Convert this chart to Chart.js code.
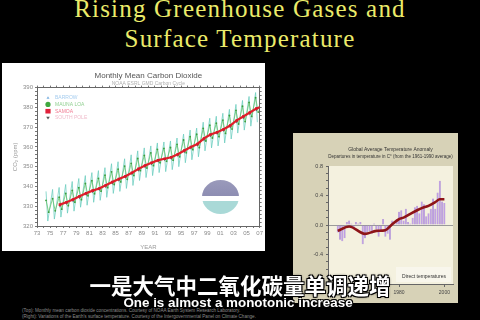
<!DOCTYPE html>
<html>
<head>
<meta charset="utf-8">
<script src="https://cdn.jsdelivr.net/npm/chart.js@4.4.1/dist/chart.umd.min.js"></script>
<style>
  html, body { margin:0; padding:0; width:480px; height:320px; background:#000; overflow:hidden; }
  .abs { position:absolute; }
  #title { left:0; top:-6px; width:480px; text-align:center; color:#ebeb6a;
           font-family:"Liberation Serif", serif; font-size:25px; line-height:30px; letter-spacing:1.2px; }
  #co2Panel { left:2px; top:63px; width:263px; height:188px; background:#fff; }
  #tempPanel { left:293px; top:133px; width:165px; height:170px; background:#d7d2b7; }
  canvas { position:absolute; left:0; top:0; }
  #logo { left:200px; top:117px; width:37px; height:34px; border-radius:50%;
          background:linear-gradient(to bottom, #9a9abb 0, #8d8db2 48%, #fff 48%, #fff 62%, #a9d9d7 62%); }
  #zh { left:0; top:273px; width:480px; text-align:center; color:#fff; font-family:"Noto Sans CJK SC";
        font-weight:bold; font-size:21.5px; line-height:24px;
        text-shadow:1px 1px 0 #000,-1px -1px 0 #000,1px -1px 0 #000,-1px 1px 0 #000,0 0 3px #000; }
  #en { left:-2px; top:295px; width:480px; text-align:center; color:#fff; font-family:"Liberation Sans";
        font-weight:bold; font-size:13.4px; line-height:16px;
        text-shadow:1px 1px 0 #000,-1px -1px 0 #000,1px -1px 0 #000,-1px 1px 0 #000; }
  #credit { left:22px; top:308px; color:#8a8a8a; font-family:"Liberation Sans"; font-size:4.6px; line-height:5.5px; white-space:nowrap; }
</style>
</head>
<body>
<div id="title" class="abs">Rising Greenhouse Gases and<br>Surface Temperature</div>
<div id="co2Panel" class="abs"><canvas id="co2Chart" width="263" height="188"></canvas><div id="logo" class="abs"></div></div>
<div id="tempPanel" class="abs"><canvas id="tempChart" width="165" height="170"></canvas></div>
<div id="credit" class="abs">(Top): Monthly mean carbon dioxide concentrations. Courtesy of NOAA Earth System Research Laboratory.<br>(Right): Variations of the Earth's surface temperature. Courtesy of the Intergovernmental Panel on Climate Change.</div>
<div id="zh" class="abs">一是大气中二氧化碳量单调递增</div>
<div id="en" class="abs">One is almost a monotonic increase</div>
<script>
//////// CO2 (ppm): seasonal high and low of each year
const co2Years = [1974, 1975, 1976, 1977, 1978, 1979, 1980, 1981, 1982, 1983, 1984, 1985, 1986, 1987, 1988, 1989, 1990,
                  1991, 1992, 1993, 1994, 1995, 1996, 1997, 1998, 1999, 2000, 2001, 2002, 2003, 2004, 2005, 2006];
const barrowHigh = [337.5, 338.5, 339.5, 341.0, 342.5, 344.0, 345.5, 347.0, 348.0, 349.5, 351.5, 352.5, 354.0, 356.0, 358.0, 359.5, 360.5,
                    362.0, 362.5, 363.0, 364.5, 366.5, 368.5, 369.5, 372.5, 374.5, 375.5, 377.0, 379.0, 381.5, 383.5, 385.5, 387.5];
const barrowLow = [322.5, 323.5, 324.5, 326.5, 327.5, 329.5, 330.5, 332.0, 333.0, 334.5, 336.5, 337.5, 339.0, 340.5, 343.0, 344.5, 345.5,
                   347.0, 347.5, 348.5, 350.0, 352.0, 353.5, 355.0, 358.0, 359.5, 360.5, 362.0, 364.0, 367.0, 368.5, 370.5, 372.5];
const maunaLoaHigh = [333.0, 333.8, 334.6, 336.5, 338.0, 339.4, 341.5, 342.9, 344.1, 345.7, 347.4, 348.8, 350.3, 351.7, 354.2, 355.7, 357.0,
                      358.8, 359.3, 359.7, 361.3, 363.5, 365.2, 366.4, 369.4, 371.0, 372.0, 373.6, 375.9, 378.5, 380.6, 382.5, 384.9];
const maunaLoaLow = [327.0, 327.7, 328.5, 330.3, 332.0, 333.3, 335.3, 336.3, 337.6, 339.4, 341.0, 342.3, 343.6, 345.5, 348.0, 349.3, 350.5,
                     352.0, 352.7, 353.3, 355.0, 357.0, 358.6, 359.6, 363.0, 364.5, 365.2, 366.8, 369.0, 371.6, 372.8, 375.4, 377.6];
// time of year (fraction) of the high / low
const barrowHighAt = 0.38, barrowLowAt = 0.65, maunaLoaHighAt = 0.38, maunaLoaLowAt = 0.78;

//annual means for the two flat records
const annualYears = [1976, 1977, 1978, 1979, 1980, 1981, 1982, 1983, 1984, 1985, 1986, 1987, 1988, 1989, 1990, 1991,
                     1992, 1993, 1994, 1995, 1996, 1997, 1998, 1999, 2000, 2001, 2002, 2003, 2004, 2005, 2006, 2007];
const samoaCO2 = [330.8, 332.0, 333.4, 335.0, 336.6, 337.9, 339.0, 340.6, 342.3, 343.8, 345.2, 346.9, 348.9, 350.6, 352.0, 353.3,
                  354.0, 354.8, 356.3, 358.2, 360.0, 361.5, 364.3, 366.3, 367.4, 368.9, 370.8, 373.4, 375.4, 377.4, 379.4, 380.6];
const southPoleCO2 = [330.0, 331.3, 332.6, 334.2, 335.8, 337.2, 338.3, 339.8, 341.5, 343.0, 344.5, 346.2, 348.1, 349.8, 351.3, 352.6,
                      353.4, 354.1, 355.6, 357.5, 359.3, 360.8, 363.4, 365.5, 366.7, 368.2, 370.0, 372.5, 374.6, 376.6, 378.6, 379.9];
const stationNames = ["BARROW", "MAUNA LOA", "SAMOA", "SOUTH POLE"];

//////// Temperature anomaly (deg C, vs 1961-1990)
const tempYears = [1953, 1954, 1955, 1956, 1957, 1958, 1959, 1960, 1961, 1962, 1963, 1964, 1965, 1966, 1967, 1968,
                   1969, 1970, 1971, 1972, 1973, 1974, 1975, 1976, 1977, 1978, 1979, 1980, 1981, 1982, 1983, 1984,
                   1985, 1986, 1987, 1988, 1989, 1990, 1991, 1992, 1993, 1994, 1995, 1996, 1997, 1998, 1999, 2000];
const tempAnomaly = [-0.10, -0.20, -0.22, -0.18, 0.04, 0.06, 0.02, -0.04, 0.04, 0.02, 0.04, -0.26, -0.18, -0.10, -0.08, -0.12,
                     0.02, -0.06, -0.16, -0.08, 0.08, -0.16, -0.12, -0.20, 0.06, 0.02, 0.08, 0.18, 0.20, 0.06, 0.22, 0.04,
                     0.02, 0.10, 0.24, 0.26, 0.16, 0.32, 0.28, 0.12, 0.16, 0.22, 0.36, 0.22, 0.44, 0.60, 0.32, 0.30];
const smoothYears = [1953, 1958, 1965, 1970, 1974, 1977, 1980, 1982, 1985, 1988, 1991, 1993, 1996, 1998, 2000];
const smoothTemp = [-0.08, -0.02, -0.12, -0.08, -0.07, 0.01, 0.08, 0.10, 0.15, 0.20, 0.24, 0.26, 0.31, 0.35, 0.35];
const tempTickYears = [1960, 1980, 2000];

//Make the sawtooth of a seasonal record from its highs and lows
function seasonal(years, highs, lows, highAt, lowAt) {
    let pts = [];
    for (let i = 0; i < years.length; i++) {
        pts.push({x: years[i] + highAt, y: highs[i]});
        pts.push({x: years[i] + lowAt, y: lows[i]});
    }
    return pts;
}

////Legend drawn inside the plot, top left, like the NOAA figure
const legendMarks = [
    {shape: "triangle", mark: "#7ab0e0", text: "#a6cdef"},
    {shape: "circle", mark: "#3fa83f", text: "#92d092"},
    {shape: "square", mark: "#e0203a", text: "#f07a92"},
    {shape: "down", mark: "#555", text: "#f0bccb"}
];
const insideLegend = {
    id: "insideLegend",
    afterDatasetsDraw(chart) {
        const {ctx, chartArea} = chart;
        ctx.save();
        ctx.font = '5px "Liberation Sans"';
        ctx.textBaseline = "middle";
        stationNames.forEach((name, i) => {
            const x = chartArea.left + 11;
            const y = chartArea.top + 10 + i * 6.8;
            const m = legendMarks[i];
            ctx.fillStyle = m.mark;
            ctx.beginPath();
            if (m.shape == "circle") ctx.arc(x, y, 2.6, 0, Math.PI * 2);
            else if (m.shape == "square") ctx.rect(x - 2.6, y - 2.3, 5.2, 4.6);
            else if (m.shape == "triangle") { ctx.moveTo(x - 1.5, y + 1.2); ctx.lineTo(x + 1.5, y + 1.2); ctx.lineTo(x, y - 1.4); }
            else { ctx.moveTo(x - 1.8, y - 1.3); ctx.lineTo(x + 1.8, y - 1.3); ctx.lineTo(x, y + 1.6); }
            ctx.fill();
            ctx.fillStyle = m.text;
            ctx.fillText(name, x + 7, y);
        });
        ctx.restore();
    }
};

const axisFont = {family: "Liberation Sans", size: 6};

///Create CO2 chart
new Chart(document.getElementById("co2Chart"), {
    type: "line",
    data: {
        datasets: [{
            label: stationNames[0],
            data: seasonal(co2Years, barrowHigh, barrowLow, barrowHighAt, barrowLowAt),
            borderColor: "rgba(105,205,190,0.95)",
            borderWidth: 0.8,
            pointRadius: 0,
            order: 3
        }, {
            label: stationNames[1],
            data: seasonal(co2Years, maunaLoaHigh, maunaLoaLow, maunaLoaHighAt, maunaLoaLowAt),
            borderColor: "rgba(95,190,95,0.9)",
            borderWidth: 0.8,
            pointRadius: 0.9,
            pointBorderWidth: 0,
            pointBackgroundColor: "#3c9c3c",
            order: 2
        }, {
            label: stationNames[2],
            data: annualYears.map((y, i) => ({x: y + 0.5, y: samoaCO2[i]})),
            borderColor: "#e0202a",
            borderWidth: 2.2,
            pointStyle: "rect",
            pointRadius: 1.8,
            pointBorderWidth: 0,
            pointBackgroundColor: "#d8182a",
            order: 0
        }, {
            label: stationNames[3],
            data: annualYears.map((y, i) => ({x: y + 0.5, y: southPoleCO2[i]})),
            showLine: false,
            pointStyle: "triangle",
            rotation: 180,
            pointRadius: 1.3,
            pointBorderWidth: 0,
            pointBackgroundColor: "rgba(70,70,70,0.8)",
            order: 1
        }]
    },
    options: {
        responsive: false,
        animation: false,
        devicePixelRatio: 1,
        plugins: {
            legend: {display: false},
            tooltip: {enabled: false},
            title: {display: true, text: "Monthly Mean Carbon Dioxide", color: "#555", fullSize: false,
                    font: {family: "Liberation Sans", size: 8, weight: "normal"}, padding: {top: 8, bottom: 0}},
            subtitle: {display: true, text: "NOAA ESRL GMD Carbon Cycle", color: "#b0b0b0", fullSize: false,
                       font: {family: "Liberation Sans", size: 5}, padding: {top: 0, bottom: 1}}
        },
        scales: {
            x: {
                type: "linear", position: "bottom", min: 1973, max: 2007,
                ticks: {stepSize: 1, autoSkip: false, maxRotation: 0, font: axisFont, color: "#8a8a8a", padding: 2,
                        callback: v => (v % 2 == 1) ? String(v % 100).padStart(2, "0") : ""},
                grid: {drawOnChartArea: false, tickLength: 2, tickColor: "#777"},
                border: {color: "#666"},
                title: {display: true, text: "YEAR", font: axisFont, color: "#9a9a9a", padding: {top: 1, bottom: 0}},
                afterFit: s => { s.height = 25; }
            },
            x2: {
                type: "linear", position: "top", min: 1973, max: 2007,
                ticks: {display: false, stepSize: 1},
                grid: {drawOnChartArea: false, tickLength: 2, tickColor: "#777"},
                border: {color: "#666"},
                afterFit: s => { s.height = 0; }
            },
            y: {
                min: 320, max: 390,
                ticks: {stepSize: 2, autoSkip: false, font: axisFont, color: "#8a8a8a", padding: 2,
                        callback: v => (v % 10 == 0) ? v : ""},
                grid: {drawOnChartArea: false, tickLength: 2, tickColor: "#777"},
                border: {color: "#666"},
                title: {display: true, text: "CO\u2082 (ppm)", font: axisFont, color: "#9a9a9a", padding: {top: 10, bottom: 0}},
                afterFit: s => { s.width = 35; }
            },
            y2: {
                position: "right", min: 320, max: 390,
                ticks: {display: false, stepSize: 2},
                grid: {drawOnChartArea: false, tickLength: 2, tickColor: "#777"},
                border: {color: "#666"},
                afterFit: s => { s.width = 5; }
            }
        }
    },
    plugins: [insideLegend]
});

////Temperature chart: light plot area and the "Direct temperatures" tag
const plotBackground = {
    id: "plotBackground",
    beforeDraw(chart) {
        const {ctx, chartArea: a} = chart;
        ctx.save();
        ctx.fillStyle = "#f4f1df";
        ctx.fillRect(a.left, a.top, a.right - a.left, a.bottom - a.top);
        ctx.restore();
    },
    afterDraw(chart) {
        const {ctx, chartArea: a} = chart;
        ctx.save();
        ctx.fillStyle = "#f8f6ec";
        ctx.fillRect(a.right - 57, a.bottom - 17, 55, 15);
        ctx.fillStyle = "#333";
        ctx.font = '5px "Liberation Sans"';
        ctx.textAlign = "center";
        ctx.textBaseline = "middle";
        ctx.fillText("Direct temperatures", a.right - 29, a.bottom - 7);
        ctx.restore();
    }
};

new Chart(document.getElementById("tempChart"), {
    type: "bar",
    data: {
        datasets: [{
            type: "line",
            label: "smoothed",
            data: smoothYears.map((y, i) => ({x: y, y: smoothTemp[i]})),
            borderColor: "#8e1418",
            borderWidth: 2.6,
            pointRadius: 0,
            cubicInterpolationMode: "monotone",
            order: 0
        }, {
            type: "bar",
            label: "annual",
            data: tempYears.map((y, i) => ({x: y, y: tempAnomaly[i]})),
            backgroundColor: "rgba(182,140,232,0.9)",
            borderColor: "rgba(130,90,200,0.9)",
            borderWidth: {left: 0.5, right: 0.5, top: 0, bottom: 0},
            barPercentage: 0.85,
            categoryPercentage: 1,
            order: 1
        }]
    },
    options: {
        responsive: false,
        animation: false,
        devicePixelRatio: 1,
        layout: {padding: {right: 5}},
        plugins: {
            legend: {display: false},
            tooltip: {enabled: false},
            title: {display: true, text: "Global Average Temperature Anomaly", color: "#333", fullSize: false,
                    font: {family: "Liberation Sans", size: 5, weight: "normal"}, padding: {top: 14, bottom: 1}},
            subtitle: {display: true, text: "Departures in temperature in C\u00b0 (from the 1961-1990 average)", color: "#333", fullSize: false,
                       font: {family: "Liberation Sans", size: 4.5}, padding: {top: 0, bottom: 6.6}}
        },
        scales: {
            x: {
                type: "linear", min: 1948.7, max: 2003.8, offset: false,
                afterBuildTicks: s => { s.ticks = tempTickYears.map(v => ({value: v})); },
                ticks: {autoSkip: false, maxRotation: 0, font: {family: "Liberation Sans", size: 5}, color: "#444", padding: 3,
                        callback: v => String(v)},
                grid: {drawOnChartArea: false, tickLength: 3, tickColor: "#666", offset: false},
                border: {color: "#666"},
                afterFit: s => { s.height = 19; }
            },
            y: {
                min: -0.8, max: 0.8,
                ticks: {stepSize: 0.1, autoSkip: false, font: {family: "Liberation Sans", size: 5.5}, color: "#444", padding: 3,
                        callback: v => (Math.round(Math.abs(v) * 10) % 4 == 0) ? v.toFixed(1) : ""},
                grid: {color: c => (Math.abs(c.tick.value) < 1e-9) ? "#9a9a9a" : "rgba(0,0,0,0)",
                       tickColor: "#666", tickLength: 2},
                border: {color: "#666"},
                afterFit: s => { s.width = 35; }
            }
        }
    },
    plugins: [plotBackground]
});
</script>
</body>
</html>
